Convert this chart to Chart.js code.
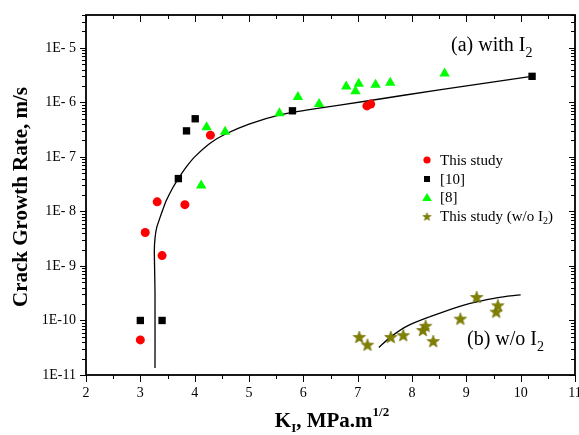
<!DOCTYPE html>
<html>
<head>
<meta charset="utf-8">
<script src="https://cdn.jsdelivr.net/npm/chart.js@4.4.1/dist/chart.umd.min.js"></script>
<style>
  html, body { margin: 0; padding: 0; background: #fff; }
  canvas { display: block; }
</style>
</head>
<body>
<canvas id="chart" width="579" height="435" style="width:579px;height:435px"></canvas>
<script>
// ---- data ----
// red circles: This study (with I2)
const studyK    = [3.00, 3.09, 3.40, 3.31, 3.82, 4.29, 7.17, 7.24];
const studyRate = [4.4e-11, 4.1e-9, 1.55e-9, 1.5e-8, 1.33e-8, 2.5e-7, 8.6e-7, 9.3e-7];

// black squares: [10]
const ref10K    = [3.00, 3.40, 3.70, 3.85, 4.01, 5.80, 10.21];
const ref10Rate = [1.0e-10, 1.0e-10, 4.0e-8, 3.0e-7, 5.0e-7, 7.0e-7, 3.0e-6];

// green triangles: [8]
const ref8K    = [4.12, 4.22, 4.56, 5.56, 5.90, 6.29, 6.79, 7.02, 6.96, 7.33, 7.60, 8.60];
const ref8Rate = [3.0e-8, 3.5e-7, 2.9e-7, 6.3e-7, 1.26e-6, 9.3e-7, 1.95e-6, 2.2e-6, 1.6e-6, 2.1e-6, 2.3e-6, 3.4e-6];

// olive stars: This study (w/o I2)
const noI2K    = [7.03, 7.18, 7.61, 7.84, 8.20, 8.25, 8.39, 8.89, 9.19, 9.55, 9.58];
const noI2Rate = [5.0e-11, 3.6e-11, 5.0e-11, 5.4e-11, 6.7e-11, 8.0e-11, 4.2e-11, 1.08e-10, 2.7e-10, 1.45e-10, 1.9e-10];

// fitted curve (a) with I2
const fitAK    = [3.27, 3.27, 3.262, 3.258, 3.27, 3.30, 3.36, 3.42, 3.48, 3.60, 3.70, 3.85, 4.00, 4.29, 4.56, 5.00, 5.57, 6.20, 7.20, 8.50, 10.20];
const fitARate = [1.35e-11, 3.2e-10, 1.0e-9, 2.0e-9, 3.2e-9, 5.0e-9, 7.6e-9, 1.12e-8, 1.6e-8, 2.75e-8, 4.0e-8, 6.6e-8, 1.0e-7, 1.8e-7, 2.6e-7, 4.0e-7, 5.9e-7, 7.6e-7, 1.07e-6, 1.7e-6, 3.0e-6];

// fitted curve (b) w/o I2
const fitBK    = [7.39, 7.61, 7.90, 8.33, 8.94, 9.56, 10.00];
const fitBRate = [3.2e-11, 5.0e-11, 7.8e-11, 1.17e-10, 1.9e-10, 2.6e-10, 2.95e-10];

// axes
const xMin = 2, xMax = 11;
const yMin = 1e-11, yMax = 4e-5;
const yTickValues = [1e-11, 1e-10, 1e-9, 1e-8, 1e-7, 1e-6, 1e-5];
const yTickLabels = ['1E-11', '1E-10', '1E- 9', '1E- 8', '1E- 7', '1E- 6', '1E- 5'];

const legendLabels = ['This study', '[10]', '[8]', 'This study (w/o I'];

// ---- helpers ----
const SERIF = "'Liberation Serif', 'Times New Roman', serif";
const pts = (xs, ys) => xs.map((x, i) => ({ x, y: ys[i] }));

function starImage(R, color) {
  const size = Math.ceil(R * 2 + 2);
  const c = document.createElement('canvas');
  c.width = size; c.height = size;
  const g = c.getContext('2d');
  const cx = size / 2, cy = size / 2 + R * 0.1;
  const r = R * 0.42;
  g.beginPath();
  for (let i = 0; i < 10; i++) {
    const rad = i % 2 === 0 ? R : r;
    const a = -Math.PI / 2 + i * Math.PI / 5;
    const px = cx + rad * Math.cos(a), py = cy + rad * Math.sin(a);
    if (i === 0) g.moveTo(px, py); else g.lineTo(px, py);
  }
  g.closePath();
  g.fillStyle = color;
  g.fill();
  g.strokeStyle = '#6b6b00';
  g.lineWidth = 0.6;
  g.stroke();
  return c;
}

const OLIVE = '#808000';
const starBig = starImage(6.6, OLIVE);
const starSmall = starImage(4.3, OLIVE);

// draw text runs (for sub/superscripts)
function runsWidth(ctx, runs) {
  let w = 0;
  for (const r of runs) { ctx.font = r.font; w += ctx.measureText(r.t).width; }
  return w;
}
function drawRuns(ctx, x, y, runs) {
  for (const r of runs) {
    ctx.font = r.font;
    ctx.fillText(r.t, x, y + (r.dy || 0));
    x += ctx.measureText(r.t).width;
  }
}

// no label overflow padding: the plot box is fixed like the original figure
function noPad(s) {
  s.paddingLeft = 0; s.paddingRight = 0; s.paddingTop = 0; s.paddingBottom = 0;
}

// ---- frame + ticks (Origin-like) ----
const framePlugin = {
  id: 'frame',
  afterDraw(chart) {
    const { ctx, chartArea: a, scales: { x, y } } = chart;
    ctx.save();
    ctx.strokeStyle = '#000';
    ctx.lineWidth = 1;
    const seg = (x1, y1, x2, y2) => { ctx.beginPath(); ctx.moveTo(x1, y1); ctx.lineTo(x2, y2); ctx.stroke(); };

    for (let k = xMin; k <= xMax + 1e-9; k += 0.5) {
      const px = Math.round(x.getPixelForValue(k)) + 0.5;
      const major = Math.abs(k - Math.round(k)) < 1e-9;
      const len = major ? 7 : 4;
      seg(px, a.bottom, px, a.bottom + len);   // bottom: outward
      seg(px, a.top, px, a.top + len);         // top: inward
    }
    for (let e = -11; e <= -5; e++) {
      for (let m = 1; m <= 9; m++) {
        const v = m * Math.pow(10, e);
        if (v > yMax * 1.0001) break;
        const py = Math.round(y.getPixelForValue(v)) + 0.5;
        const len = m === 1 ? 6 : 4;
        seg(a.left - len, py, a.left, py);      // left: outward
        seg(a.right, py, a.right - len, py);    // right: inward
      }
    }
    ctx.lineWidth = 1.8;
    ctx.strokeRect(a.left, a.top, a.right - a.left, a.bottom - a.top);
    ctx.restore();
  }
};

// ---- texts: axis titles, legend, annotations ----
const textPlugin = {
  id: 'texts',
  afterDraw(chart) {
    const { ctx } = chart;
    ctx.save();
    ctx.fillStyle = '#000';
    ctx.textBaseline = 'alphabetic';
    ctx.textAlign = 'left';

    // y title
    ctx.save();
    ctx.translate(27, 197);
    ctx.rotate(-Math.PI / 2);
    ctx.textAlign = 'center';
    ctx.font = 'bold 21px ' + SERIF;
    ctx.fillText('Crack Growth Rate, m/s', 0, 0);
    ctx.restore();

    // x title: K_I, MPa.m^1/2
    const xt = [
      { t: 'K', font: 'bold 21px ' + SERIF },
      { t: 'I', font: 'bold 13px ' + SERIF, dy: 5 },
      { t: ', MPa.m', font: 'bold 21px ' + SERIF },
      { t: '1/2', font: 'bold 13px ' + SERIF, dy: -11 },
    ];
    drawRuns(ctx, 332 - runsWidth(ctx, xt) / 2, 427, xt);

    // annotations
    drawRuns(ctx, 451, 51, [
      { t: '(a) with I', font: '20px ' + SERIF },
      { t: '2', font: '14px ' + SERIF, dy: 6 },
    ]);
    drawRuns(ctx, 467, 345, [
      { t: '(b) w/o I', font: '20px ' + SERIF },
      { t: '2', font: '14px ' + SERIF, dy: 6 },
    ]);

    // legend
    const rowsY = [160, 179, 197.5, 216.5];
    const mx = 427, tx = 440;
    ctx.fillStyle = '#ff0000';
    ctx.beginPath(); ctx.arc(mx, rowsY[0], 3.6, 0, Math.PI * 2); ctx.fill();
    ctx.fillStyle = '#000';
    ctx.fillRect(mx - 3, rowsY[1] - 3, 6, 6);
    ctx.fillStyle = '#00ff00';
    ctx.beginPath();
    ctx.moveTo(mx, rowsY[2] - 4.5);
    ctx.lineTo(mx + 4.8, rowsY[2] + 3.5);
    ctx.lineTo(mx - 4.8, rowsY[2] + 3.5);
    ctx.closePath(); ctx.fill();
    ctx.drawImage(starSmall, mx - starSmall.width / 2, rowsY[3] - starSmall.height / 2);

    ctx.fillStyle = '#000';
    ctx.textBaseline = 'middle';
    for (let i = 0; i < 3; i++) {
      ctx.font = '15px ' + SERIF;
      ctx.fillText(legendLabels[i], tx, rowsY[i] + 1);
    }
    drawRuns(ctx, tx, rowsY[3] + 1, [
      { t: legendLabels[3], font: '15px ' + SERIF },
      { t: '2', font: '10px ' + SERIF, dy: 4 },
      { t: ')', font: '15px ' + SERIF },
    ]);
    ctx.restore();
  }
};

// ---- chart ----
new Chart(document.getElementById('chart'), {
  type: 'scatter',
  data: {
    datasets: [
      {
        label: 'This study', data: pts(studyK, studyRate), order: 1,
        pointStyle: 'circle', pointRadius: 4.5, backgroundColor: '#ff0000', borderColor: '#ff0000', borderWidth: 0,
      },
      {
        label: '[10]', data: pts(ref10K, ref10Rate), order: 2,
        pointStyle: 'rect', pointRadius: 5.2, backgroundColor: '#000', borderColor: '#000', borderWidth: 0,
      },
      {
        label: '[8]', data: pts(ref8K, ref8Rate), order: 3,
        pointStyle: 'triangle', pointRadius: 6, backgroundColor: '#00ff00', borderColor: '#00ff00', borderWidth: 0,
      },
      {
        label: 'This study (w/o I2)', data: pts(noI2K, noI2Rate), order: 4,
        pointStyle: starBig, pointRadius: 6, backgroundColor: OLIVE, borderColor: OLIVE,
      },
      {
        label: 'fit a', data: pts(fitAK, fitARate), order: 10,
        showLine: true, pointRadius: 0, borderColor: '#000', borderWidth: 1.3, tension: 0.2, fill: false,
      },
      {
        label: 'fit b', data: pts(fitBK, fitBRate), order: 10,
        showLine: true, pointRadius: 0, borderColor: '#000', borderWidth: 1.3, tension: 0.3, fill: false,
      },
    ],
  },
  options: {
    responsive: false,
    animation: false,
    devicePixelRatio: 1,
    layout: { padding: { left: 0, right: 4, top: 15, bottom: 0 }, autoPadding: false },
    plugins: { legend: { display: false }, tooltip: { enabled: false } },
    scales: {
      x: {
        type: 'linear', min: xMin, max: xMax,
        afterFit: (s) => { s.height = 60; noPad(s); },
        ticks: { stepSize: 1, color: '#000', padding: 10, font: { family: SERIF, size: 14 } },
        grid: { display: false, drawTicks: false },
        border: { display: false },
      },
      y: {
        type: 'logarithmic', min: yMin, max: yMax,
        afterFit: (s) => { s.width = 86; noPad(s); },
        afterBuildTicks: (s) => { s.ticks = yTickValues.map(v => ({ value: v, major: true })); },
        ticks: {
          autoSkip: false, color: '#000', padding: 10, font: { family: SERIF, size: 14 },
          callback: (v) => {
            const i = yTickValues.findIndex(t => Math.abs(Math.log10(t) - Math.log10(v)) < 1e-6);
            return i >= 0 ? yTickLabels[i] : '';
          },
        },
        grid: { display: false, drawTicks: false },
        border: { display: false },
      },
    },
  },
  plugins: [framePlugin, textPlugin],
});
</script>
</body>
</html>
